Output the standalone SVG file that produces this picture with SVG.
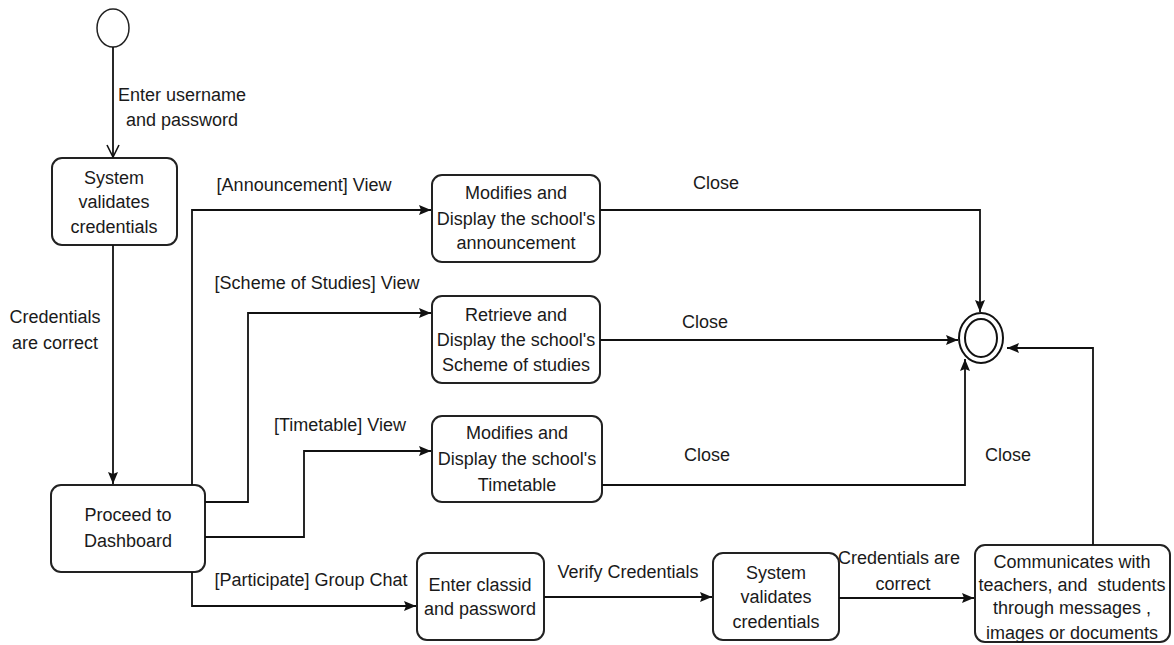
<svg xmlns="http://www.w3.org/2000/svg" width="1174" height="645" viewBox="0 0 1174 645">
<defs>
<marker id="fa" viewBox="0 0 12 12" refX="12" refY="6" markerWidth="12" markerHeight="12" markerUnits="userSpaceOnUse" orient="auto">
<path d="M0,1 L12,6 L0,11 L2,6 Z" fill="#111"/>
</marker>
<marker id="oa" viewBox="0 0 14 14" refX="13" refY="7" markerWidth="14" markerHeight="14" markerUnits="userSpaceOnUse" orient="auto">
<path d="M1,1 L13,7 L1,13" fill="none" stroke="#111" stroke-width="1.6"/>
</marker>
<style>
.n{fill:#fff;stroke:#222;stroke-width:2}
.t{font-family:"Liberation Sans",Arial,sans-serif;font-size:18px;fill:#1a1a1a;text-anchor:middle}
.c{fill:none;stroke:#111;stroke-width:1.8}
</style>
</defs>
<rect width="1174" height="645" fill="#fff"/>

<g id="start"><ellipse cx="113" cy="28" rx="16" ry="19" fill="#fff" stroke="#222" stroke-width="1.5"/></g>
<g id="final">
<ellipse cx="981" cy="338" rx="22" ry="25" fill="#fff" stroke="#111" stroke-width="2"/>
<ellipse cx="981" cy="338" rx="16" ry="19" fill="none" stroke="#111" stroke-width="2"/>
</g>

<g id="validate1"><rect class="n" x="52" y="158" width="125" height="87" rx="10"/>
<text class="t" x="114" y="184">System</text><text class="t" x="114" y="208">validates</text><text class="t" x="114" y="233">credentials</text></g>

<g id="dashboard"><rect class="n" x="51" y="485" width="154" height="87" rx="10"/>
<text class="t" x="128" y="521">Proceed to</text><text class="t" x="128" y="547">Dashboard</text></g>

<g id="announcement"><rect class="n" x="432" y="175" width="168" height="87" rx="10"/>
<text class="t" x="516" y="199">Modifies and</text><text class="t" x="516" y="225">Display the school's</text><text class="t" x="516" y="249">announcement</text></g>

<g id="scheme"><rect class="n" x="432" y="296" width="168" height="87" rx="10"/>
<text class="t" x="516" y="321">Retrieve and</text><text class="t" x="516" y="346">Display the school's</text><text class="t" x="516" y="371">Scheme of studies</text></g>

<g id="timetable"><rect class="n" x="432" y="416" width="170" height="86" rx="10"/>
<text class="t" x="517" y="439">Modifies and</text><text class="t" x="517" y="465">Display the school's</text><text class="t" x="517" y="491">Timetable</text></g>

<g id="classid"><rect class="n" x="417" y="553" width="127" height="87" rx="10"/>
<text class="t" x="480" y="591">Enter classid</text><text class="t" x="480" y="615">and password</text></g>

<g id="validate2"><rect class="n" x="713" y="553" width="126" height="87" rx="10"/>
<text class="t" x="776" y="579">System</text><text class="t" x="776" y="603">validates</text><text class="t" x="776" y="628">credentials</text></g>

<g id="communicate"><rect class="n" x="975" y="545" width="195" height="97" rx="10"/>
<text class="t" x="1072" y="568">Communicates with</text><text class="t" x="1072" y="591" xml:space="preserve">teachers, and  students</text><text class="t" x="1072" y="614">through messages ,</text><text class="t" x="1072" y="639">images or documents</text></g>

<g id="connectors">
<path class="c" d="M113,47 L113,157" marker-end="url(#oa)"/>
<path class="c" d="M113,245 L113,484" marker-end="url(#fa)"/>
<path class="c" d="M192,485 L192,210 L431,210" marker-end="url(#fa)"/>
<path class="c" d="M205,502 L248,502 L248,313 L431,313" marker-end="url(#fa)"/>
<path class="c" d="M205,537 L304,537 L304,451 L431,451" marker-end="url(#fa)"/>
<path class="c" d="M192,572 L192,606 L416,606" marker-end="url(#fa)"/>
<path class="c" d="M600,210 L980,210 L980,312" marker-end="url(#fa)"/>
<path class="c" d="M600,340 L958,340" marker-end="url(#fa)"/>
<path class="c" d="M602,485 L965,485 L965,359" marker-end="url(#fa)"/>
<path class="c" d="M544,597 L712,597" marker-end="url(#fa)"/>
<path class="c" d="M839,598 L974,598" marker-end="url(#fa)"/>
<path class="c" d="M1093,545 L1093,348 L1007,348" marker-end="url(#fa)"/>
</g>

<g id="labels">
<text class="t" x="182" y="101">Enter username</text>
<text class="t" x="182" y="126">and password</text>
<text class="t" x="55" y="323">Credentials</text>
<text class="t" x="55" y="349">are correct</text>
<text class="t" x="304" y="191">[Announcement] View</text>
<text class="t" x="317" y="289">[Scheme of Studies] View</text>
<text class="t" x="340" y="431">[Timetable] View</text>
<text class="t" x="311" y="586">[Participate] Group Chat</text>
<text class="t" x="716" y="189">Close</text>
<text class="t" x="705" y="328">Close</text>
<text class="t" x="707" y="461">Close</text>
<text class="t" x="1008" y="461">Close</text>
<text class="t" x="628" y="578">Verify Credentials</text>
<text class="t" x="899" y="564">Credentials are</text>
<text class="t" x="903" y="590">correct</text>
</g>
</svg>
